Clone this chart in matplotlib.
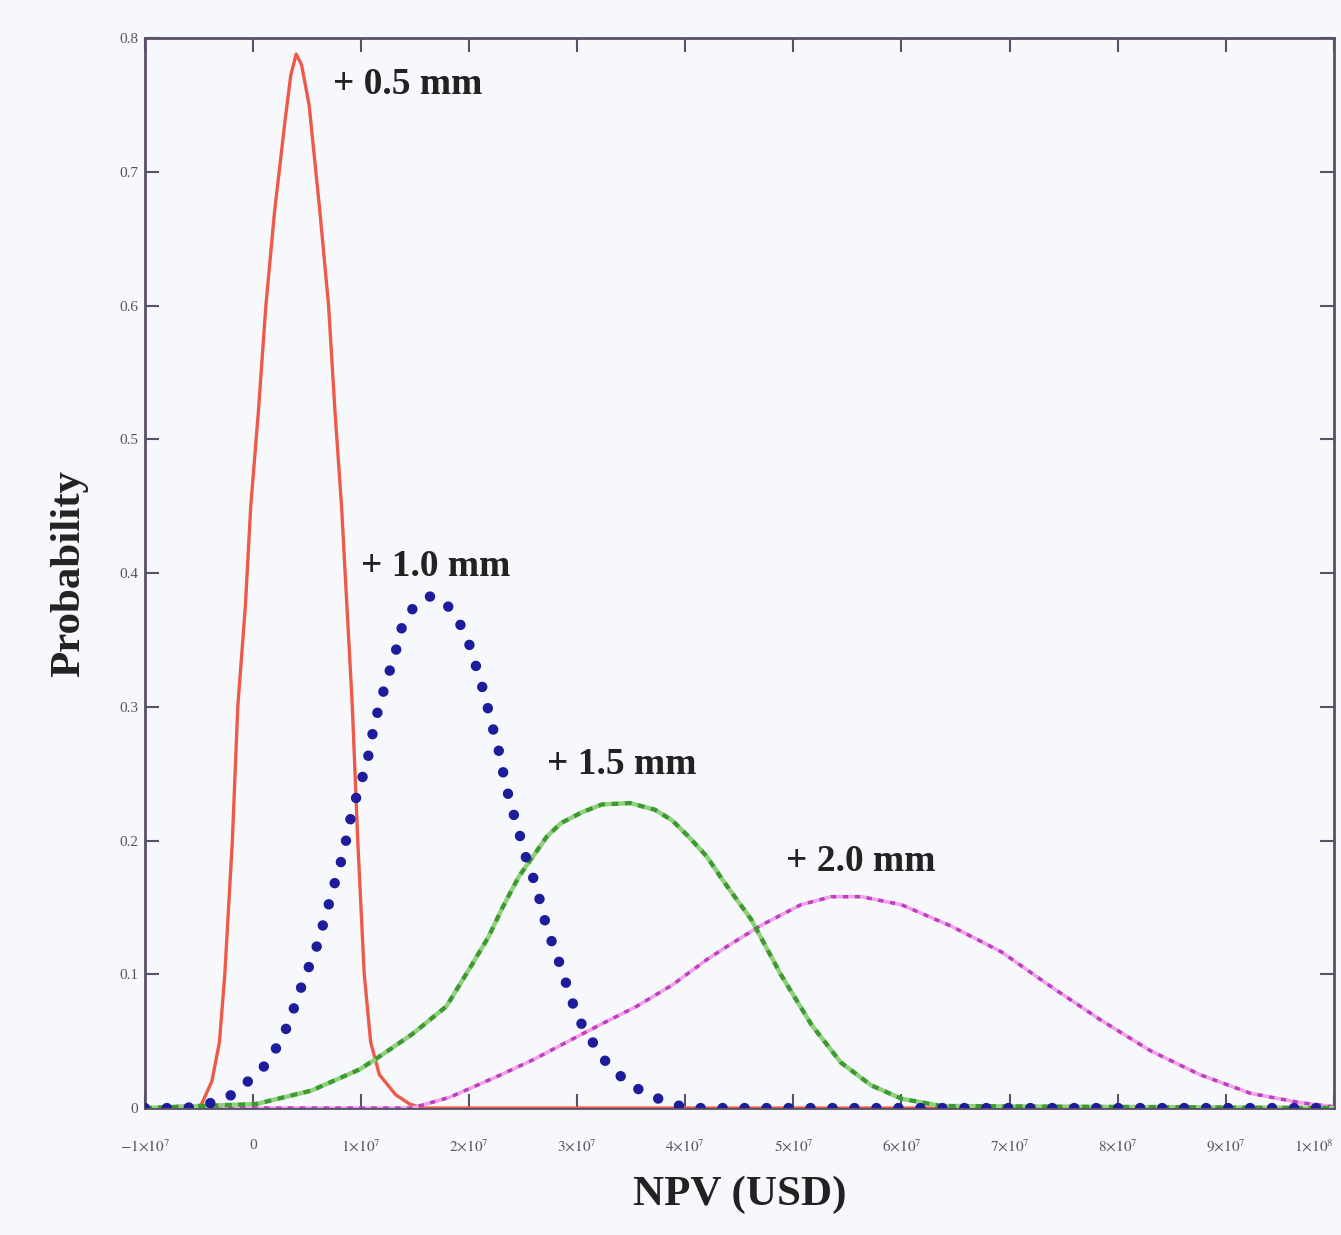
import matplotlib
matplotlib.use('Agg')
import matplotlib.pyplot as plt

plt.rcParams['font.family'] = ['Liberation Serif', 'DejaVu Serif']
plt.rcParams['mathtext.fontset'] = 'stix'

# NPV in units of 10^7 USD, probability
npv_05 = [-1.0, -0.48, -0.38, -0.31, -0.26, -0.19, -0.14, -0.07, -0.02, 0.05, 0.12, 0.20, 0.30,
          0.35, 0.40, 0.45, 0.52, 0.62, 0.70, 0.76, 0.82, 0.87, 0.92, 0.97, 1.03, 1.09, 1.17,
          1.32, 1.45, 1.57, 10.0]
prob_05 = [0.0, 0.002, 0.020, 0.049, 0.10, 0.20, 0.30, 0.375, 0.45, 0.52, 0.60, 0.67, 0.74,
           0.772, 0.788, 0.78, 0.75, 0.67, 0.60, 0.52, 0.45, 0.375, 0.30, 0.20, 0.10, 0.049, 0.025,
           0.010, 0.003, 0.0, 0.0]

npv_10 = [-1.0, -0.62, -0.42, -0.23, -0.10, 0.01, 0.14, 0.23, 0.33, 0.41, 0.49, 0.58, 0.67,
          0.77, 0.84, 0.89, 0.94, 1.02, 1.08, 1.12, 1.18, 1.25, 1.32, 1.38, 1.49, 1.65, 1.79,
          1.93, 2.01, 2.08, 2.14, 2.21, 2.27, 2.32, 2.38, 2.45, 2.51, 2.59, 2.66, 2.72, 2.80,
          2.88, 2.94, 3.04, 3.16, 3.27, 3.40, 3.52, 3.72, 3.88, 4.03, 10.0]
prob_10 = [0.0, 0.0, 0.003, 0.008, 0.016, 0.024, 0.034, 0.047, 0.063, 0.082, 0.100, 0.118, 0.143,
           0.172, 0.191, 0.212, 0.228, 0.249, 0.267, 0.286, 0.304, 0.323, 0.341, 0.360, 0.375,
           0.383, 0.377, 0.360, 0.345, 0.326, 0.310, 0.287, 0.269, 0.249, 0.228, 0.210, 0.191,
           0.173, 0.154, 0.134, 0.117, 0.098, 0.082, 0.063, 0.047, 0.034, 0.024, 0.016, 0.008,
           0.003, 0.0, 0.0]

npv_15 = [-1.0, 0.03, 0.54, 0.99, 1.18, 1.47, 1.79, 2.01, 2.18, 2.31, 2.46, 2.59, 2.72, 2.85,
          3.04, 3.23, 3.49, 3.72, 3.88, 4.03, 4.20, 4.35, 4.61, 4.89, 5.17, 5.44, 5.72, 6.00,
          6.37, 10.0]
prob_15 = [0.0, 0.003, 0.013, 0.029, 0.039, 0.055, 0.076, 0.105, 0.128, 0.150, 0.173, 0.188,
           0.203, 0.213, 0.221, 0.227, 0.228, 0.223, 0.215, 0.203, 0.188, 0.170, 0.141, 0.099,
           0.062, 0.034, 0.017, 0.007, 0.0015, 0.0]

npv_20 = [-1.0, 1.47, 1.82, 2.27, 2.59, 2.92, 3.23, 3.55, 3.88, 4.20, 4.39, 4.71, 5.07, 5.35,
          5.63, 6.00, 6.46, 6.92, 7.38, 7.84, 8.30, 8.76, 9.23, 9.69, 10.0]
prob_20 = [0.0, 0.0, 0.008, 0.024, 0.036, 0.050, 0.063, 0.076, 0.092, 0.111, 0.121, 0.137,
           0.152, 0.158, 0.158, 0.152, 0.136, 0.117, 0.091, 0.066, 0.043, 0.025, 0.011, 0.004,
           0.001]

curve_labels = ['+ 0.5 mm', '+ 1.0 mm', '+ 1.5 mm', '+ 2.0 mm']
label_x = [0.74, 1.0, 2.72, 4.93]
label_y = [0.765, 0.405, 0.257, 0.184]

xticks = list(range(-1, 11))
xticklabels = ['$-1{\\times}10^7$', '0'] + ['$%d{\\times}10^7$' % k for k in range(1, 10)] + ['$1{\\times}10^8$']
yticks = [0, 0.1, 0.2, 0.3, 0.4, 0.5, 0.6, 0.7, 0.8]
yticklabels = ['0', '0.1', '0.2', '0.3', '0.4', '0.5', '0.6', '0.7', '0.8']

bg = '#f6f8fc'
fig = plt.figure(figsize=(13.41, 12.35), dpi=100, facecolor=bg)
ax = fig.add_axes([0.108, 0.1028, 0.8866, 0.8664], facecolor=bg)

ax.plot(npv_05, prob_05, color='#ee5a48', lw=2.4, zorder=3)
ax.plot(npv_20, prob_20, color='#c03cc0', lw=2.6, linestyle=(0, (1.5, 1.8)),
        gapcolor='#f2a2ea', zorder=4)
ax.plot(npv_15, prob_15, color='#3d9a2e', lw=3.2, linestyle=(0, (1.6, 1.4)),
        gapcolor='#90d27c', zorder=5)
ax.plot(npv_10, prob_10, color='#1c1c9c', lw=7.5, linestyle=(0, (0.01, 2.1)),
        dash_capstyle='round', zorder=6)

for txt, tx, ty in zip(curve_labels, label_x, label_y):
    ax.text(tx, ty, txt, fontsize=27, fontweight='bold', ha='left', va='center',
            color='#222222', zorder=7)

ax.set_xlim(-1, 10)
ax.set_ylim(0, 0.8)
ax.set_xticks(xticks)
ax.set_xticklabels(xticklabels, fontsize=11, color='#5a5064')
ax.get_xticklabels()[-1].set_ha('right')
ax.set_yticks(yticks)
ax.set_yticklabels(yticklabels, fontsize=11, color='#5a5064')
ax.tick_params(direction='in', length=10, width=1.5, top=True, right=True, color='#5a5068')
ax.tick_params(axis='x', pad=22)
ax.tick_params(axis='y', pad=5)
for s in ax.spines.values():
    s.set_color('#5a5068')
    s.set_linewidth(2)

ax.set_xlabel('NPV (USD)', fontsize=31, fontweight='bold', color='#222222', labelpad=14)
ax.set_ylabel('Probability', fontsize=31, fontweight='bold', color='#222222', labelpad=22)

fig.savefig('out.png', dpi=100, facecolor=bg)
